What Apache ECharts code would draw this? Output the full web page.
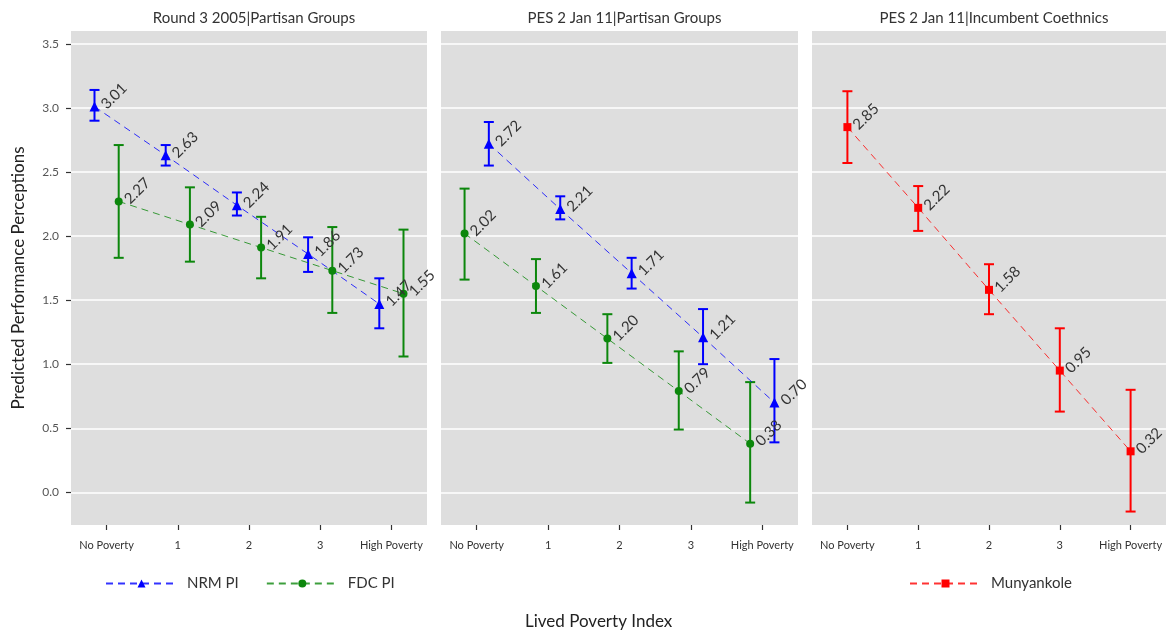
<!DOCTYPE html>
<html>
<head>
<meta charset="utf-8">
<script src="https://cdn.jsdelivr.net/npm/echarts@6/dist/echarts.min.js"></script>
<style>
  html, body { margin: 0; padding: 0; background: #ffffff; }
  #chart { width: 1167px; height: 633px; }
</style>
</head>
<body>
<div id="chart"></div>
<script>
// Lived poverty categories and y-axis tick labels
const categories = ['No Poverty', '1', '2', '3', 'High Poverty'];
const yTicks = [0, 0.5, 1, 1.5, 2, 2.5, 3, 3.5];
const panelTitles = ['Round 3 2005|Partisan Groups', 'PES 2 Jan 11|Partisan Groups', 'PES 2 Jan 11|Incumbent Coethnics'];

// Round 3 2005, partisan groups: predicted value with lower / upper bounds
const r3NrmMean = [3.01, 2.63, 2.24, 1.86, 1.47];
const r3NrmLow  = [2.90, 2.55, 2.16, 1.72, 1.28];
const r3NrmHigh = [3.14, 2.71, 2.34, 1.99, 1.67];
const r3FdcMean = [2.27, 2.09, 1.91, 1.73, 1.55];
const r3FdcLow  = [1.83, 1.80, 1.67, 1.40, 1.06];
const r3FdcHigh = [2.71, 2.38, 2.15, 2.07, 2.05];

// PES 2 Jan 11, partisan groups
const pesNrmMean = [2.72, 2.21, 1.71, 1.21, 0.70];
const pesNrmLow  = [2.55, 2.13, 1.59, 1.00, 0.39];
const pesNrmHigh = [2.89, 2.31, 1.83, 1.43, 1.04];
const pesFdcMean = [2.02, 1.61, 1.20, 0.79, 0.38];
const pesFdcLow  = [1.66, 1.40, 1.01, 0.49, -0.08];
const pesFdcHigh = [2.37, 1.82, 1.39, 1.10, 0.86];

// PES 2 Jan 11, incumbent coethnics
const munMean = [2.85, 2.22, 1.58, 0.95, 0.32];
const munLow  = [2.57, 2.04, 1.39, 0.63, -0.15];
const munHigh = [3.13, 2.39, 1.78, 1.28, 0.80];

const FONT = 'Lato, "Open Sans", sans-serif';
const BLUE = '#0000ff';
const GREEN = '#0c870c';
const RED = '#ff0000';
const DODGE = 0.17;

const panels = [
  { left: 71, width: 356 },
  { left: 441, width: 357 },
  { left: 812, width: 354 }
];

const grids = panels.map(p => ({
  left: p.left, width: p.width, top: 31, height: 494,
  show: true, backgroundColor: '#dedede', borderWidth: 0
}));

const titles = panels.map((p, i) => ({
  text: panelTitles[i],
  left: p.left + p.width / 2,
  top: 6,
  textAlign: 'center',
  textStyle: { fontFamily: FONT, fontSize: 15, fontWeight: 'normal', color: '#333' }
}));

// visible category axes (ticks + labels) and hidden value axes for dodged marks
const xAxes = panels.map((p, i) => ({
  gridIndex: i, type: 'category', data: categories, boundaryGap: true, position: 'bottom',
  axisLine: { show: false, onZero: false },
  axisTick: { show: true, alignWithLabel: true, length: 5, lineStyle: { color: '#333', width: 1.2 } },
  axisLabel: { interval: 0, margin: 15, fontFamily: FONT, fontSize: 11, color: '#333' },
  splitLine: { show: false }
})).concat(panels.map((p, i) => ({
  gridIndex: i, type: 'value', min: -0.5, max: 4.5, show: false,
  axisLine: { onZero: false },
  splitLine: { show: false }
})));

const yAxes = panels.map((p, i) => ({
  gridIndex: i, type: 'value', min: -0.255, max: 3.6, position: 'left',
  name: i === 0 ? 'Predicted Performance Perceptions' : '',
  nameLocation: 'middle', nameGap: 44,
  nameTextStyle: { fontFamily: FONT, fontSize: 17, color: '#222' },
  axisLine: { show: false, onZero: false },
  axisTick: { show: i === 0, inside: false, customValues: yTicks, length: 5,
              lineStyle: { color: '#333', width: 1.2 } },
  axisLabel: { show: i === 0, customValues: yTicks, formatter: v => v.toFixed(1), margin: 12,
               fontFamily: FONT, fontSize: 12, color: '#555' },
  splitLine: { show: true, lineStyle: { color: '#ffffff', width: 1.5 } }
}));

function pointSeries(name, mean, dodge, grid, color, symbol, size) {
  return {
    name, type: 'line', xAxisIndex: 3 + grid, yAxisIndex: grid,
    data: mean.map((v, i) => [i + dodge, v]),
    symbol, symbolSize: size,
    itemStyle: { color },
    lineStyle: { color, width: 1, type: [7, 5], opacity: 0.8 },
    label: {
      show: true, position: 'right', distance: 4, rotate: 45,
      formatter: p => p.value[1].toFixed(2),
      fontFamily: FONT, fontSize: 15, color: '#333'
    },
    z: 4, animation: false
  };
}

function errorSeries(name, low, high, dodge, grid, color) {
  return {
    name, type: 'custom', xAxisIndex: 3 + grid, yAxisIndex: grid,
    data: low.map((l, i) => [i + dodge, l, high[i]]),
    encode: { x: 0, y: [1, 2] },
    renderItem: (params, api) => {
      const x = api.value(0);
      const a = api.coord([x, api.value(1)]);
      const b = api.coord([x, api.value(2)]);
      const w = 5;
      const st = { stroke: color, lineWidth: 2 };
      return {
        type: 'group',
        children: [
          { type: 'line', shape: { x1: a[0], y1: a[1], x2: b[0], y2: b[1] }, style: st },
          { type: 'line', shape: { x1: a[0] - w, y1: a[1], x2: a[0] + w, y2: a[1] }, style: st },
          { type: 'line', shape: { x1: b[0] - w, y1: b[1], x2: b[0] + w, y2: b[1] }, style: st }
        ]
      };
    },
    z: 3, animation: false
  };
}

const series = [
  errorSeries('r3-nrm-ci', r3NrmLow, r3NrmHigh, -DODGE, 0, BLUE),
  errorSeries('r3-fdc-ci', r3FdcLow, r3FdcHigh, DODGE, 0, GREEN),
  pointSeries('NRM PI', r3NrmMean, -DODGE, 0, BLUE, 'triangle', 10),
  pointSeries('FDC PI', r3FdcMean, DODGE, 0, GREEN, 'circle', 8),

  errorSeries('pes-nrm-ci', pesNrmLow, pesNrmHigh, DODGE, 1, BLUE),
  errorSeries('pes-fdc-ci', pesFdcLow, pesFdcHigh, -DODGE, 1, GREEN),
  pointSeries('NRM PI', pesNrmMean, DODGE, 1, BLUE, 'triangle', 10),
  pointSeries('FDC PI', pesFdcMean, -DODGE, 1, GREEN, 'circle', 8),

  errorSeries('mun-ci', munLow, munHigh, 0, 2, RED),
  pointSeries('Munyankole', munMean, 0, 2, RED, 'rect', 8)
];

const legendText = { fontFamily: FONT, fontSize: 15, color: '#333', padding: [0, 0, 0, 5] };

const option = {
  animation: false,
  title: titles,
  grid: grids,
  xAxis: xAxes,
  yAxis: yAxes,
  legend: [
    { data: ['NRM PI', 'FDC PI'], left: 100, top: 571, itemWidth: 71, itemHeight: 10,
      itemGap: 27, textStyle: legendText, selectedMode: false },
    { data: ['Munyankole'], left: 904, top: 571, itemWidth: 71, itemHeight: 10,
      textStyle: legendText, selectedMode: false }
  ],
  graphic: [{
    type: 'text', left: 604 - 79, top: 613,
    style: { text: 'Lived Poverty Index', fontFamily: FONT, fontSize: 17, fill: '#222' }
  }],
  series
};

const chart = echarts.init(document.getElementById('chart'), null, { renderer: 'canvas' });
chart.setOption(option);
</script>
</body>
</html>
